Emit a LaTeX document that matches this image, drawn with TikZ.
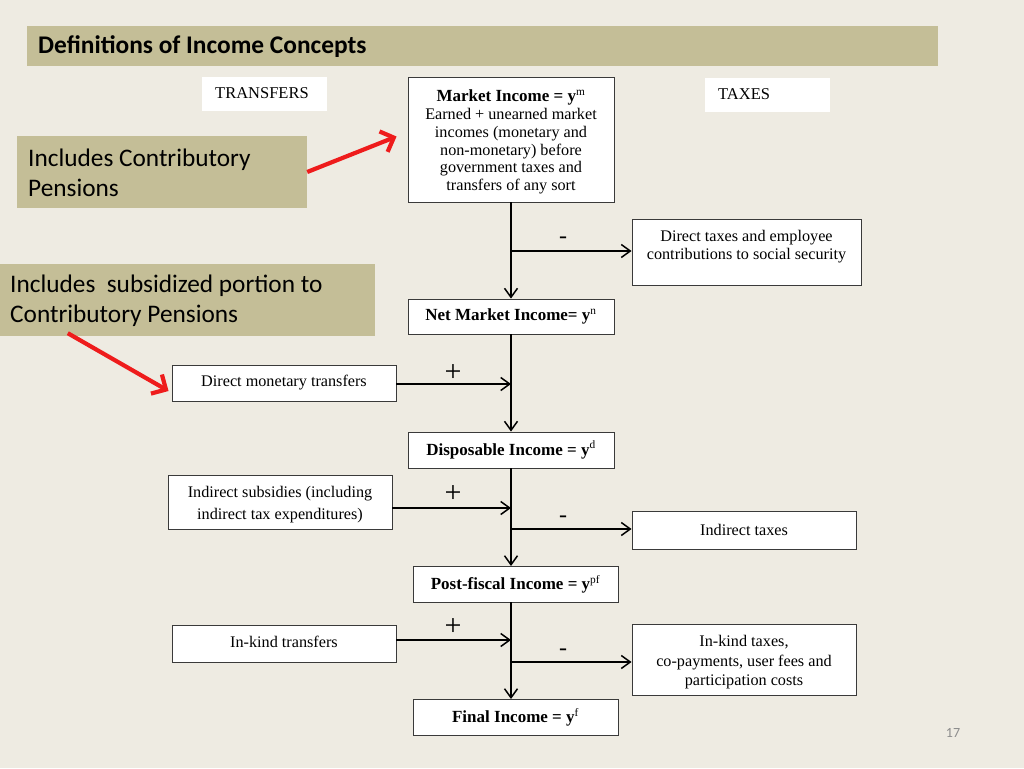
\documentclass[tikz,border=0pt]{standalone}
\usepackage{fontspec}
\setmainfont{Liberation Serif}
\newfontfamily\calibri{Carlito}
\usetikzlibrary{arrows.meta}
\definecolor{bg}{HTML}{EEEBE2}
\definecolor{khaki}{HTML}{C4BE97}
\definecolor{redarrow}{HTML}{EE1C1C}
\definecolor{boxline}{HTML}{3A3A3A}
\definecolor{pagenum}{HTML}{8C8C8C}
\begin{document}
\begin{tikzpicture}[x=1pt,y=-1pt,
  flowbox/.style={draw=boxline, line width=0.9pt, fill=white, inner sep=0pt, align=center,
    font=\fontsize{16.2}{17.9}\selectfont},
  tagbox/.style={fill=white, inner sep=0pt, anchor=west},
  tagtext/.style={inner sep=0pt, anchor=west, font=\fontsize{16.5}{18}\selectfont},
  notebox/.style={fill=khaki, inner sep=0pt},
  notetext/.style={inner sep=0pt, anchor=west, align=flush left,
    font=\calibri\fontsize{25.3}{30}\selectfont},
  plain/.style={inner sep=0pt, align=center, font=\fontsize{16.2}{18.5}\selectfont},
  flow/.style={draw=black, line width=1.5pt, -{Straight Barb[length=9pt,width=13pt]}},
  redarr/.style={draw=redarrow, line width=4.2pt, -{Straight Barb[length=11pt,width=22pt]}},
  sign/.style={inner sep=0pt, font=\fontsize{30}{30}\selectfont},
  minus/.style={inner sep=0pt, font=\fontsize{24}{24}\selectfont}
]
\fill[bg] (0,0) rectangle (1024,768);
\useasboundingbox (0,0) rectangle (1024,768);

% title
\node[fill=khaki, anchor=west, minimum width=911pt, minimum height=40pt, inner sep=0pt]
  (title) at (27,46) {};
\node[inner sep=0pt, anchor=west, font=\calibri\bfseries\fontsize{25.4}{26}\selectfont]
  (titletext) at (38,46.5) {Definitions of Income Concepts};

% tags
\node[tagbox, minimum width=125pt, minimum height=34pt] (transfers) at (202,94) {};
\node[tagtext] (transferstext) at (215,93) {TRANSFERS};
\node[tagbox, minimum width=125pt, minimum height=34pt] (taxes) at (705,95) {};
\node[tagtext] (taxestext) at (718,94) {TAXES};

% notes
\node[notebox, minimum width=290pt, minimum height=72pt] (inc1) at (162,172) {};
\node[notetext] (inc1text) at (28,173) {Includes Contributory\\Pensions};
\node[notebox, minimum width=375pt, minimum height=72pt] (inc2) at (187.5,300) {};
\node[notetext] (inc2text) at (10,301) {Includes\ \ subsidized portion to\\Contributory Pensions};

% main column
\node[flowbox, minimum width=206pt, minimum height=125pt] (mkt) at (511,139.5) {};
\node[plain, font=\fontsize{16.2}{17.8}\selectfont] (mkttext) at (511,142) {{\bfseries\fontsize{17}{18}\selectfont Market Income = y}\textsuperscript{m}\\
  Earned + unearned market\\incomes (monetary and\\non-monetary) before\\government taxes and\\transfers of any sort};
\node[flowbox, minimum width=206pt, minimum height=35pt]
  (nmi) at (511,316.5) {{\bfseries\fontsize{17}{18}\selectfont Net Market Income= y}\textsuperscript{n}};
\node[flowbox, minimum width=206pt, minimum height=36pt]
  (disp) at (511,450) {{\bfseries\fontsize{17}{18}\selectfont Disposable Income = y}\textsuperscript{d}};
\node[flowbox, minimum width=205pt, minimum height=36pt]
  (post) at (515.5,584) {{\bfseries\fontsize{17}{18}\selectfont Post-fiscal Income = y}\textsuperscript{pf}};
\node[flowbox, minimum width=205pt, minimum height=36pt]
  (final) at (515.5,717) {{\bfseries\fontsize{17}{18}\selectfont Final Income = y}\textsuperscript{f}};

% side boxes
\node[flowbox, minimum width=229pt, minimum height=66pt] (dt) at (746.5,252) {};
\node[plain] (dttext) at (746.5,246.5) {Direct taxes and employee\\contributions to social security};
\node[flowbox, minimum width=224pt, minimum height=36pt] (dmt) at (284,383) {Direct monetary transfers};
\node[flowbox, minimum width=224pt, minimum height=54pt] (isub) at (280,502) {};
\node[plain, font=\fontsize{16.2}{22}\selectfont] (isubtext) at (280,505)
  {Indirect subsidies (including\\indirect tax expenditures)};
\node[flowbox, minimum width=224pt, minimum height=38pt] (itx) at (744,530) {Indirect taxes};
\node[flowbox, minimum width=224pt, minimum height=37pt] (ikt) at (284,643.5) {};
\node[plain] (ikttext) at (284,641.5) {In-kind transfers};
\node[flowbox, minimum width=224pt, minimum height=71pt] (ikx) at (744,659.5) {};
\node[plain, font=\fontsize{16.2}{19.5}\selectfont] (ikxtext) at (744,662.5)
  {In-kind taxes,\\co-payments, user fees and\\participation costs};

% spine coordinates
\coordinate (b1) at (511,251);
\coordinate (j1) at (511,384);
\coordinate (j2) at (511,508);
\coordinate (b2) at (511,529);
\coordinate (top2) at (511,566);
\coordinate (top3) at (511,602);
\coordinate (bot3) at (511,699);
\coordinate (j3) at (511,640);
\coordinate (b3) at (511,662);

% connectors
\draw[flow] (mkt.south) -- (nmi.north);
\draw[flow] (nmi.south) -- (disp.north);
\draw[flow] (disp.south) -- (top2);
\draw[flow] (top3) -- (bot3);

\draw[flow] (b1) -- (b1 -| dt.west);
\draw[flow] (dmt.east |- j1) -- (j1);
\draw[flow] (isub.east |- j2) -- (j2);
\draw[flow] (b2) -- (b2 -| itx.west);
\draw[flow] (ikt.east |- j3) -- (j3);
\draw[flow] (b3) -- (b3 -| ikx.west);

% signs
\node[minus] (s1) at (563,240) {-};
\node[sign] (p1) at (453,373) {+};
\node[sign] (p2) at (453,494) {+};
\node[minus] (s2) at (563,519) {-};
\node[sign] (p3) at (453,627) {+};
\node[minus] (s3) at (563,652) {-};

% red arrows
\draw[redarr] (inc1.east) -- ([xshift=-11pt,yshift=3pt]mkt.west);
\draw[redarr] ([xshift=68pt,yshift=3pt]inc2.south west) -- ([xshift=-3pt,yshift=-8pt]dmt.west);

% page number
\node[inner sep=0pt, text=pagenum, font=\calibri\fontsize{14}{14}\selectfont] (pg) at (953,733) {17};
\end{tikzpicture}
\end{document}
